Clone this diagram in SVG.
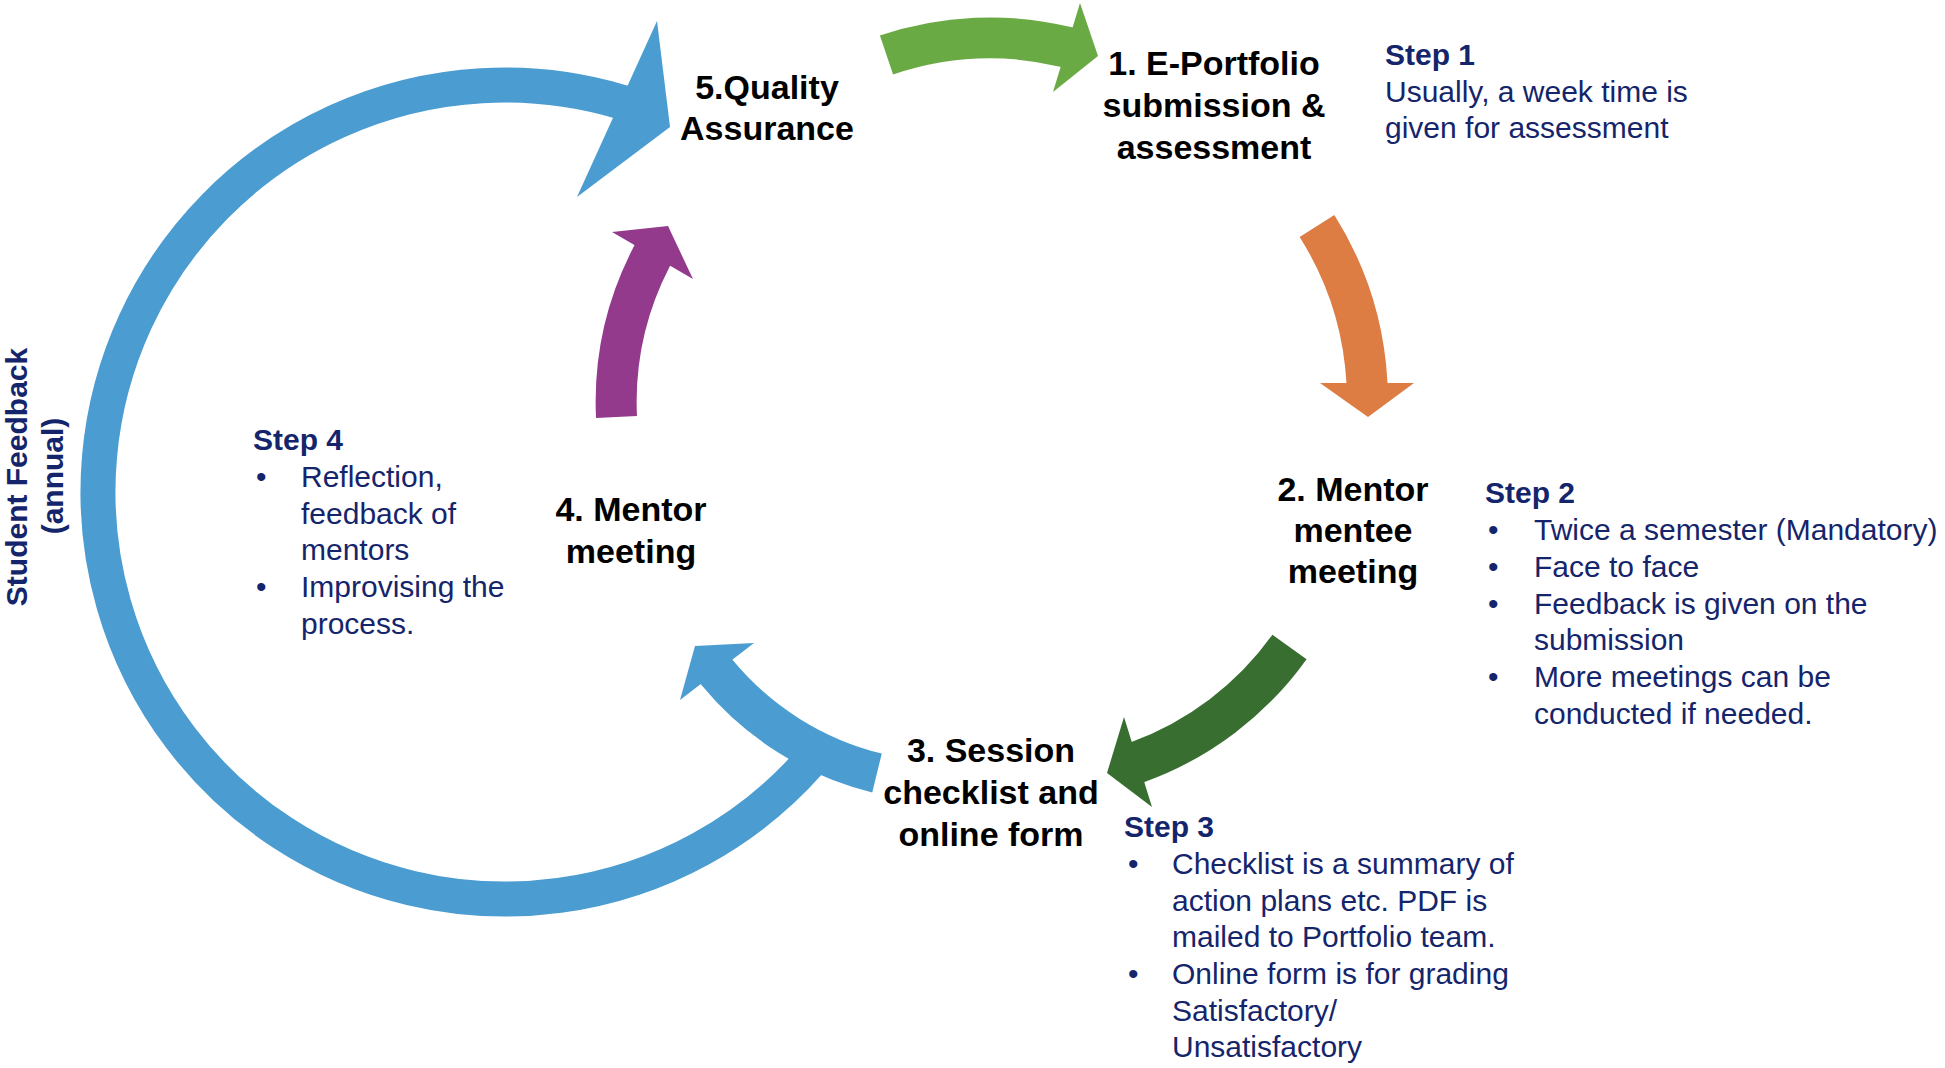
<svg xmlns="http://www.w3.org/2000/svg" width="1945" height="1068" viewBox="0 0 1945 1068">
<style>
.lbl{font-family:"Liberation Sans",Arial,sans-serif;font-weight:700;font-size:34px;fill:#000;text-anchor:middle}
.st{font-family:"Liberation Sans",Arial,sans-serif;font-size:30px;fill:#15256B}
.sh{font-weight:700}
.arc{fill:none;stroke-linecap:butt}
.blue{stroke:#4A9CD1}
.blueF{fill:#4A9CD1}
</style>
<rect width="1945" height="1068" fill="#fff"/>
<g id="connectors">
  <g id="arrow-feedback">
    <path class="arc blue" stroke-width="35" d="M809.8,761.7 A407,407 0 1 1 620.3,101.7 l7.7,2.3"/>
    <polygon class="blueF" points="657,21 670,127 577,197"/>
  </g>
  <g id="arrow-5-1">
    <path class="arc" stroke="#6AAA44" stroke-width="41" d="M886.5,55 A323,323 0 0 1 1066,47 l5.8,1.4"/>
    <polygon fill="#6AAA44" points="1080,3 1098,56 1053,92"/>
  </g>
  <g id="arrow-1-2">
    <path class="arc" stroke="#DD7C43" stroke-width="41" d="M1317,226 A328,328 0 0 1 1367,383 l0.3,6"/>
    <polygon fill="#DD7C43" points="1320,383 1414,383 1368,417"/>
  </g>
  <g id="arrow-2-3">
    <path class="arc" stroke="#386E30" stroke-width="42" d="M1289.5,647 A321,321 0 0 1 1138,762 l-5.6,2.1"/>
    <polygon fill="#386E30" points="1124,717 1107,773 1152,807"/>
  </g>
  <g id="arrow-3-4">
    <path class="arc blue" stroke-width="40" d="M877,773 A300,300 0 0 1 717.5,673 l-3.8,-4.6"/>
    <polygon class="blueF" points="754,643 695,646 680,700"/>
  </g>
  <g id="arrow-4-5">
    <path class="arc" stroke="#933A8D" stroke-width="41" d="M616.5,417 A316,316 0 0 1 651.5,257 l2.75,-5.3"/>
    <polygon fill="#933A8D" points="612,232 668,226 693,279"/>
  </g>
</g>
<g id="node-quality">
  <text class="lbl"><tspan x="767" y="99">5.Quality</tspan><tspan x="767" y="140">Assurance</tspan></text>
</g>
<g id="node-eportfolio">
  <text class="lbl"><tspan x="1214" y="75">1. E-Portfolio</tspan><tspan x="1214" y="117">submission &amp;</tspan><tspan x="1214" y="159">assessment</tspan></text>
</g>
<g id="node-mentor-mentee">
  <text class="lbl"><tspan x="1353" y="501">2. Mentor</tspan><tspan x="1353" y="542">mentee</tspan><tspan x="1353" y="583">meeting</tspan></text>
</g>
<g id="node-session">
  <text class="lbl"><tspan x="991" y="762">3. Session</tspan><tspan x="991" y="804">checklist and</tspan><tspan x="991" y="846">online form</tspan></text>
</g>
<g id="node-mentor-meeting">
  <text class="lbl"><tspan x="631" y="521">4. Mentor</tspan><tspan x="631" y="563">meeting</tspan></text>
</g>
<g id="step1">
  <text class="st sh" x="1385" y="65">Step 1</text>
  <text class="st"><tspan x="1385" y="101.5">Usually, a week time is</tspan><tspan x="1385" y="138">given for assessment</tspan></text>
</g>
<g id="step2">
  <text class="st sh" x="1485" y="503">Step 2</text>
  <text class="st"><tspan x="1488" y="540">•</tspan><tspan x="1488" y="577">•</tspan><tspan x="1488" y="613.5">•</tspan><tspan x="1488" y="687">•</tspan></text>
  <text class="st"><tspan x="1534" y="540">Twice a semester (Mandatory)</tspan><tspan x="1534" y="577">Face to face</tspan><tspan x="1534" y="613.5">Feedback is given on the</tspan><tspan x="1534" y="650">submission</tspan><tspan x="1534" y="687">More meetings can be</tspan><tspan x="1534" y="723.5">conducted if needed.</tspan></text>
</g>
<g id="step3">
  <text class="st sh" x="1124" y="837">Step 3</text>
  <text class="st"><tspan x="1128" y="874">•</tspan><tspan x="1128" y="984">•</tspan></text>
  <text class="st"><tspan x="1172" y="874">Checklist is a summary of</tspan><tspan x="1172" y="910.5">action plans etc. PDF is</tspan><tspan x="1172" y="947">mailed to Portfolio team.</tspan><tspan x="1172" y="984">Online form is for grading</tspan><tspan x="1172" y="1020.5">Satisfactory/</tspan><tspan x="1172" y="1057">Unsatisfactory</tspan></text>
</g>
<g id="step4">
  <text class="st sh" x="253" y="450">Step 4</text>
  <text class="st"><tspan x="256" y="487">•</tspan><tspan x="256" y="597">•</tspan></text>
  <text class="st"><tspan x="301" y="487">Reflection,</tspan><tspan x="301" y="523.5">feedback of</tspan><tspan x="301" y="560">mentors</tspan><tspan x="301" y="597">Improvising the</tspan><tspan x="301" y="633.5">process.</tspan></text>
</g>
<g id="label-student-feedback">
  <text class="st sh" text-anchor="middle" transform="translate(27,477) rotate(-90)">Student Feedback</text>
  <text class="st sh" text-anchor="middle" transform="translate(63,476) rotate(-90)">(annual)</text>
</g>
</svg>
